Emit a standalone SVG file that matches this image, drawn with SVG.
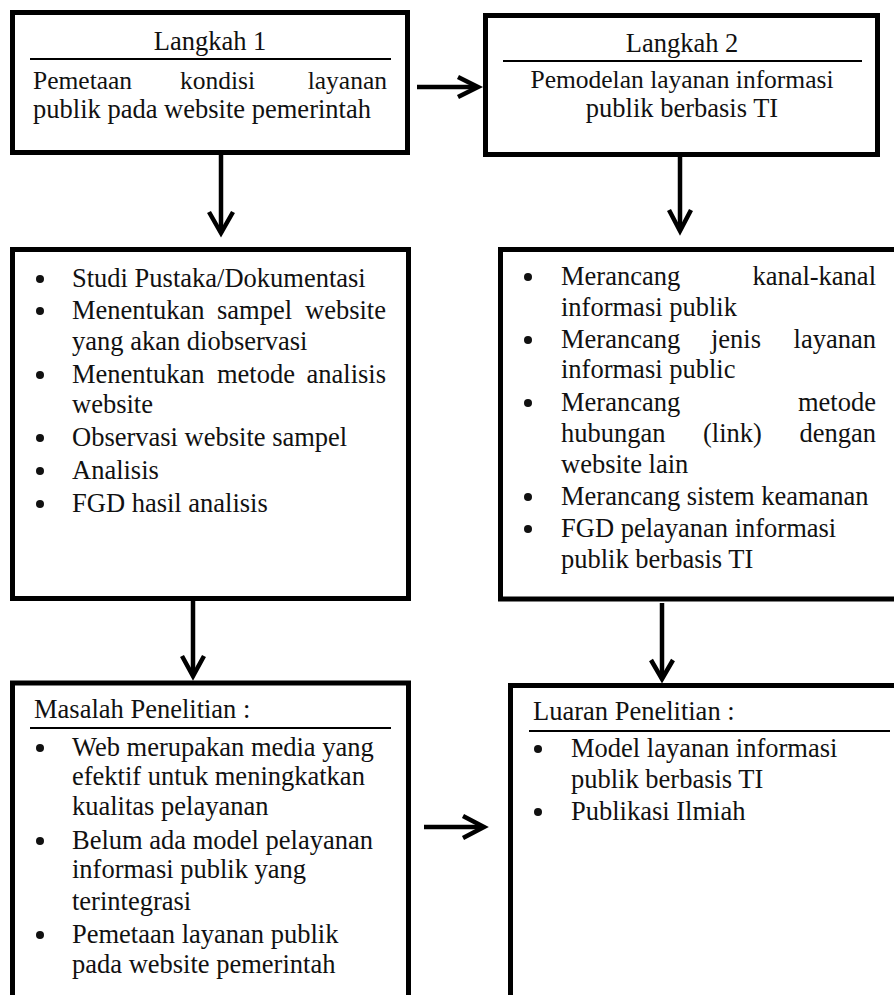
<svg xmlns="http://www.w3.org/2000/svg" width="894" height="995" viewBox="0 0 894 995">
  <style>
    .box { fill: none; stroke: #000; stroke-width: 5; }
    .rule { stroke: #000; stroke-width: 2; }
    .conn { fill: none; stroke: #000; stroke-width: 4.5; stroke-linecap: butt; stroke-linejoin: miter; }
    .t { font-family: "Liberation Serif", "Times New Roman", serif; font-size: 26.5px; fill: #111; }
    .s { font-size: 25.5px; }
    .mid { text-anchor: middle; }
    .end { text-anchor: end; }
    .dot { fill: #111; }
  </style>
  <rect width="894" height="995" fill="#fff"/>

  <!-- Step 1 -->
  <g id="langkah1">
    <rect class="box" x="12.5" y="12.5" width="395" height="140"/>
    <text class="t mid" x="210" y="50">Langkah 1</text>
    <line class="rule" x1="30" y1="59" x2="391" y2="59"/>
    <text class="t s" x="33" y="89">Pemetaan</text>
    <text class="t s" x="180" y="89">kondisi</text>
    <text class="t s end" x="387" y="89">layanan</text>
    <text class="t" x="33" y="118" textLength="338">publik pada website pemerintah</text>
  </g>

  <!-- Step 2 -->
  <g id="langkah2">
    <rect class="box" x="485.5" y="15.5" width="392" height="139"/>
    <text class="t mid" x="682" y="52">Langkah 2</text>
    <line class="rule" x1="503" y1="61" x2="862" y2="61"/>
    <text class="t s mid" x="682" y="88">Pemodelan layanan informasi</text>
    <text class="t mid" x="682" y="117">publik berbasis TI</text>
  </g>

  <!-- Step 1 activities -->
  <g id="kegiatan1">
    <rect class="box" x="12.5" y="249.5" width="396" height="349"/>
    <circle class="dot" cx="40" cy="279" r="4"/>
    <text class="t" x="72" y="287">Studi Pustaka/Dokumentasi</text>
    <circle class="dot" cx="40" cy="311" r="4"/>
    <text class="t" x="72" y="319">Menentukan</text>
    <text class="t" x="217" y="319">sampel</text>
    <text class="t end" x="386" y="319">website</text>
    <text class="t" x="72" y="350">yang akan diobservasi</text>
    <circle class="dot" cx="40" cy="375" r="4"/>
    <text class="t" x="72" y="383">Menentukan</text>
    <text class="t" x="217" y="383">metode</text>
    <text class="t end" x="386" y="383">analisis</text>
    <text class="t" x="72" y="413">website</text>
    <circle class="dot" cx="40" cy="438" r="4"/>
    <text class="t" x="72" y="446">Observasi website sampel</text>
    <circle class="dot" cx="40" cy="471" r="4"/>
    <text class="t" x="72" y="479">Analisis</text>
    <circle class="dot" cx="40" cy="504" r="4"/>
    <text class="t" x="72" y="512">FGD hasil analisis</text>
  </g>

  <!-- Step 2 activities -->
  <g id="kegiatan2">
    <rect class="box" x="500.5" y="249.5" width="410" height="349.5"/>
    <circle class="dot" cx="528" cy="277" r="4"/>
    <text class="t" x="561" y="285">Merancang</text>
    <text class="t end" x="876" y="285">kanal-kanal</text>
    <text class="t" x="561" y="316">informasi publik</text>
    <circle class="dot" cx="528" cy="340" r="4"/>
    <text class="t" x="561" y="348">Merancang</text>
    <text class="t" x="711" y="348">jenis</text>
    <text class="t end" x="876" y="348">layanan</text>
    <text class="t" x="561" y="378">informasi public</text>
    <circle class="dot" cx="528" cy="403" r="4"/>
    <text class="t" x="561" y="411">Merancang</text>
    <text class="t end" x="876" y="411">metode</text>
    <text class="t" x="561" y="442">hubungan</text>
    <text class="t" x="703" y="442">(link)</text>
    <text class="t end" x="876" y="442">dengan</text>
    <text class="t" x="561" y="473">website lain</text>
    <circle class="dot" cx="528" cy="497" r="4"/>
    <text class="t" x="561" y="505">Merancang sistem keamanan</text>
    <circle class="dot" cx="528" cy="529" r="4"/>
    <text class="t" x="561" y="537">FGD pelayanan informasi</text>
    <text class="t" x="561" y="568">publik berbasis TI</text>
  </g>

  <!-- Research problems (box runs past the bottom edge) -->
  <g id="masalah">
    <path class="box" d="M12.5,1000 V683 H408.5 V1000"/>
    <text class="t" x="34" y="718">Masalah Penelitian :</text>
    <line class="rule" x1="30" y1="728" x2="391" y2="728"/>
    <circle class="dot" cx="40" cy="748" r="4"/>
    <text class="t" x="72" y="756">Web merupakan media yang</text>
    <text class="t" x="72" y="785">efektif untuk meningkatkan</text>
    <text class="t" x="72" y="815">kualitas pelayanan</text>
    <circle class="dot" cx="40" cy="841" r="4"/>
    <text class="t" x="72" y="849">Belum ada model pelayanan</text>
    <text class="t" x="72" y="878">informasi publik yang</text>
    <text class="t" x="72" y="910">terintegrasi</text>
    <circle class="dot" cx="40" cy="935" r="4"/>
    <text class="t" x="72" y="943">Pemetaan layanan publik</text>
    <text class="t" x="72" y="973">pada website pemerintah</text>
  </g>

  <!-- Research outputs (box runs past the right and bottom edges) -->
  <g id="luaran">
    <path class="box" d="M510.5,1000 V685.5 H900"/>
    <text class="t" x="533" y="720">Luaran Penelitian :</text>
    <line class="rule" x1="529" y1="731" x2="890" y2="731"/>
    <circle class="dot" cx="538" cy="749" r="4"/>
    <text class="t" x="571" y="757">Model layanan informasi</text>
    <text class="t" x="571" y="788">publik berbasis TI</text>
    <circle class="dot" cx="538" cy="812" r="4"/>
    <text class="t" x="571" y="820">Publikasi Ilmiah</text>
  </g>

  <!-- Connectors -->
  <g id="connectors">
    <path class="conn" d="M417,87 H477"/>
    <path class="conn" d="M458,77 L478,87 L458,97"/>

    <path class="conn" d="M221,155 V231"/>
    <path class="conn" d="M209,212 L221,233 L233,212"/>

    <path class="conn" d="M680,157 V229"/>
    <path class="conn" d="M669,210 L680,231 L691,210"/>

    <path class="conn" d="M193,601 V674"/>
    <path class="conn" d="M182,656 L193,676 L204,656"/>

    <path class="conn" d="M662,603 V677"/>
    <path class="conn" d="M651,660 L662,679 L673,660"/>

    <path class="conn" d="M424,827 H482"/>
    <path class="conn" d="M463,816 L484,827 L463,838"/>
  </g>
</svg>
